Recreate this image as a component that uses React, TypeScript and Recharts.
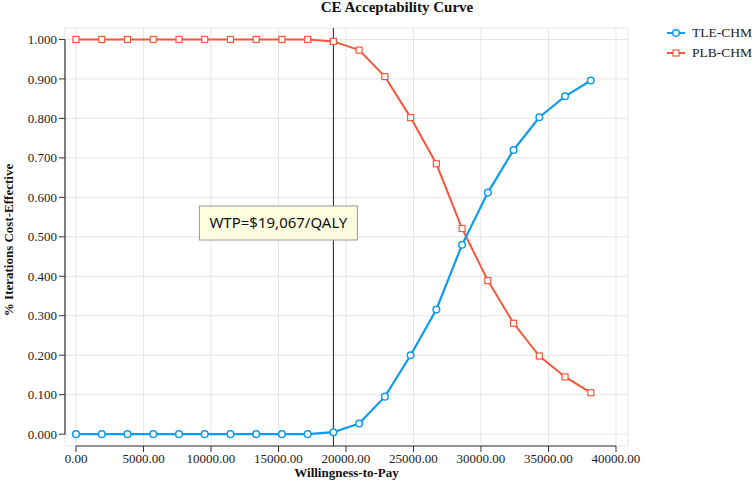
import { LineChart, Line, XAxis, YAxis, CartesianGrid, ReferenceLine } from 'recharts';

const wtpValues = [
  0, 1906.7, 3813.4, 5720.1, 7626.8, 9533.5, 11440.2, 13346.9, 15253.6, 17160.3, 19067,
  20973.7, 22880.4, 24787.1, 26693.8, 28600.5, 30507.2, 32413.9, 34320.6, 36227.3, 38134,
];
const tleChm = [
  0, 0, 0, 0, 0, 0, 0, 0, 0, 0, 0.005,
  0.027, 0.095, 0.2, 0.316, 0.48, 0.612, 0.72, 0.803, 0.856, 0.896,
];
const plbChm = [
  1, 1, 1, 1, 1, 1, 1, 1, 1, 1, 0.995,
  0.973, 0.906, 0.802, 0.685, 0.521, 0.389, 0.281, 0.198, 0.145, 0.105,
];
const xTicks = [0, 5000, 10000, 15000, 20000, 25000, 30000, 35000, 40000];
const yTicks = [0, 0.1, 0.2, 0.3, 0.4, 0.5, 0.6, 0.7, 0.8, 0.9, 1];
const WTP = 19067;
const WTP_LABEL = 'WTP=$19,067/QALY';

const BLUE = '#0f9bef';
const RED = '#f4573c';
const serif = '"Liberation Serif", "Times New Roman", serif';

// domain edges leave a gap between the plot area and the data, like the original
const X_DOMAIN = [-815, 40890];
const Y_DOMAIN = [-0.03, 1.029];

const data = wtpValues.map((wtp, i) => ({ wtp, tle: tleChm[i], plb: plbChm[i] }));

function SquareDot(props: any) {
  const { cx, cy, index } = props;
  if (cx == null || cy == null) return null;
  return <rect key={`sq-${index}`} x={cx - 3} y={cy - 3} width={6} height={6} fill="#fff" stroke={RED} strokeWidth={1.2} />;
}

function WtpBox(props: any) {
  const { viewBox } = props;
  const x = viewBox.x - 134;
  const y = viewBox.y + 178;
  return (
    <g>
      <rect x={x} y={y} width={158} height={34} fill="#fdfde0" stroke="#9a9a9a" strokeWidth={1} />
      <text x={x + 79} y={y + 22} textAnchor="middle" fontFamily='"Noto Sans", "Open Sans", sans-serif' fontSize={15} fill="#111">
        {WTP_LABEL}
      </text>
    </g>
  );
}

function LegendRow({ color, square, label }: { color: string; square?: boolean; label: string }) {
  return (
    <div style={{ display: 'flex', alignItems: 'center', height: 20 }}>
      <svg width={22} height={12} style={{ marginRight: 4 }}>
        <line x1={1} y1={6} x2={19} y2={6} stroke={color} strokeWidth={2} />
        {square ? (
          <rect x={7} y={3} width={6} height={6} fill="#fff" stroke={color} strokeWidth={1.2} />
        ) : (
          <circle cx={10} cy={6} r={3.3} fill="#fff" stroke={color} strokeWidth={1.5} />
        )}
      </svg>
      <span style={{ fontFamily: serif, fontSize: 13.5, color: '#222' }}>{label}</span>
    </div>
  );
}

export default function App() {
  return (
    <div style={{ position: 'absolute', left: 0, top: 0, width: 754, height: 484, background: '#fff' }}>
      <div
        style={{
          position: 'absolute', left: 297, top: -1, width: 200, textAlign: 'center',
          fontFamily: serif, fontWeight: 'bold', fontSize: 15, lineHeight: '16px', color: '#111',
        }}
      >
        CE Acceptability Curve
      </div>
      <div style={{ position: 'absolute', left: 666, top: 23 }}>
        <LegendRow color={BLUE} label="TLE-CHM" />
        <LegendRow color={RED} square label="PLB-CHM" />
      </div>
      <LineChart width={754} height={484} data={data} margin={{ top: 28, right: 126, bottom: 8, left: 15 }}>
        <CartesianGrid stroke="#e6e6e6" />
        <XAxis
          dataKey="wtp"
          type="number"
          domain={X_DOMAIN}
          allowDataOverflow
          ticks={xTicks}
          tickFormatter={(v) => v.toFixed(2)}
          axisLine={false}
          tickLine={{ stroke: '#333' }}
          tick={{ fontFamily: serif, fontSize: 13, fill: '#222' }}
          height={30}
          label={{
            content: (p: any) => (
              <text x={p.viewBox.x + p.viewBox.width / 2} y={477} textAnchor="middle" fontFamily={serif} fontWeight="bold" fontSize={13} fill="#111">
                Willingness-to-Pay
              </text>
            ),
          }}
        />
        <YAxis
          type="number"
          domain={Y_DOMAIN}
          allowDataOverflow
          ticks={yTicks}
          tickFormatter={(v) => v.toFixed(3)}
          axisLine={false}
          tickLine={{ stroke: '#333' }}
          tick={{ fontFamily: serif, fontSize: 13, fill: '#222' }}
          width={50}
          label={{
            content: () => (
              <text transform="translate(13,240) rotate(-90)" textAnchor="middle" fontFamily={serif} fontWeight="bold" fontSize={13} fill="#111">
                % Iterations Cost-Effective
              </text>
            ),
          }}
        />
        {/* axis lines only span the tick range */}
        <ReferenceLine segment={[{ x: 0, y: Y_DOMAIN[0] }, { x: 40000, y: Y_DOMAIN[0] }]} stroke="#333" strokeWidth={1.2} ifOverflow="visible" />
        <ReferenceLine segment={[{ x: X_DOMAIN[0], y: 0 }, { x: X_DOMAIN[0], y: 1 }]} stroke="#333" strokeWidth={1.2} ifOverflow="visible" />
        <Line
          dataKey="plb"
          stroke={RED}
          strokeWidth={2}
          dot={SquareDot}
          activeDot={false}
          isAnimationActive={false}
        />
        <Line
          dataKey="tle"
          stroke={BLUE}
          strokeWidth={2.2}
          dot={{ r: 3.3, fill: '#fff', stroke: BLUE, strokeWidth: 1.5 }}
          activeDot={false}
          isAnimationActive={false}
        />
        <ReferenceLine x={WTP} stroke="#222" strokeWidth={1} label={<WtpBox />} />
      </LineChart>
    </div>
  );
}
